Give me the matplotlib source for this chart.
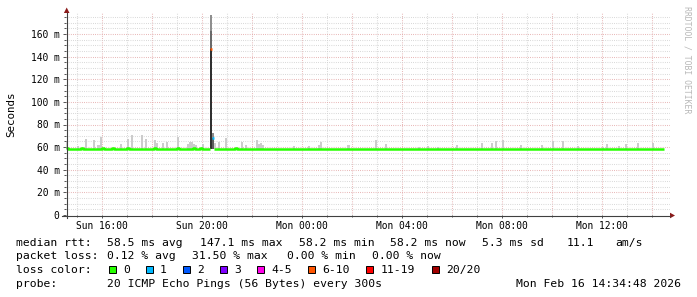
import numpy as np
import matplotlib
matplotlib.use('Agg')
import matplotlib.pyplot as plt
from matplotlib.lines import Line2D
from matplotlib.patches import Rectangle, Polygon
from matplotlib.transforms import Affine2D

W, H = 697, 297
MONO = 'DejaVu Sans Mono'

# time axis in hours since Sun 00:00, one value per 5 minute step
start_h = 14 + 34 / 60 + 48 / 3600
step_h = 5 / 60
n_steps = 287

# median rtt (ms)
median_base = 58.2
median_bump_idx = [0, 7, 17, 22, 29, 42, 53, 61, 64, 81]
median_bump_val = 59.2

# light smoke: max ping of the steps that had outliers (ms)
smoke_idx = [0, 5, 9, 13, 15, 16, 26, 29, 31, 36, 38, 42, 43, 46, 48, 53, 58, 59, 60,
             61, 62, 65, 71, 73, 76, 84, 86, 91, 92, 93, 94, 109, 116, 121, 122, 135,
             148, 153, 169, 173, 178, 187, 199, 204, 206, 209, 218, 228, 233, 238, 245,
             257, 259, 265, 268, 274, 281]
smoke_max = [65.6, 61.0, 67.0, 66.0, 62.0, 69.0, 62.7, 67.0, 70.3, 70.8, 67.0, 66.0, 64.0,
             64.0, 64.5, 68.7, 63.0, 64.5, 64.5, 63.0, 62.0, 63.0, 63.5, 64.7, 68.4, 64.7,
             62.0, 66.0, 63.0, 64.0, 62.0, 61.0, 61.0, 62.0, 64.7, 62.0, 66.5, 63.0, 60.0,
             61.0, 60.0, 62.0, 64.0, 63.5, 65.0, 66.0, 61.8, 62.0, 65.0, 65.0, 61.0, 60.0,
             63.0, 61.0, 62.5, 64.0, 63.5]

# the loss event just after Sun 20:00
loss_idx = [69, 70]
loss_median = [147.1, 68.4]
loss_pings = [7, 1]
loss_bands = [[58.2, 147.1, 163.0, 177.0], [58.2, 68.4, 72.8]]
band_shades = [['#303030', '#6a6a6a', '#8e8e8e'], ['#5c5c5c', '#8c8c8c']]

# legend
loss_labels = ['0', '1', '2', '3', '4-5', '6-10', '11-19', '20/20']
loss_upper = [0, 1, 2, 3, 5, 10, 19, 20]
loss_colors = ['#26ff00', '#00b8ff', '#0059ff', '#7e00ff', '#ff00e8', '#ff5500', '#ff0000', '#a10000']

stats_rtt = ['58.5 ms avg', '147.1 ms max', '58.2 ms min', '58.2 ms now', '5.3 ms sd', '11.1', 'am/s']
stats_loss = ['0.12 % avg', '31.50 % max', '0.00 % min', '0.00 % now']
probe_text = '20 ICMP Echo Pings (56 Bytes) every 300s'
stamp = 'Mon Feb 16 14:34:48 2026'

x_ticks = [16, 20, 24, 28, 32, 36]
x_labels = ['Sun 16:00', 'Sun 20:00', 'Mon 00:00', 'Mon 04:00', 'Mon 08:00', 'Mon 12:00']
y_ticks = [0, 20, 40, 60, 80, 100, 120, 140, 160]
y_labels = ['0'] + ['%d m' % v for v in y_ticks[1:]]

# build series
median = np.full(n_steps, median_base)
median[median_bump_idx] = median_bump_val
loss = np.zeros(n_steps, dtype=int)
loss[loss_idx] = loss_pings
median[loss_idx] = loss_median
smoke_top = median.copy()
smoke_top[smoke_idx] = smoke_max
edges = start_h + np.arange(n_steps + 1) * step_h

fig = plt.figure(figsize=(W / 100, H / 100), dpi=100)
fig.patch.set_facecolor('white')
PX = Affine2D().scale(1 / W, -1 / H).translate(0, 1) + fig.transFigure

L, R, B, T = 66.2, 670, 215, 13
ax = fig.add_axes([L / W, 1 - B / H, (R - L) / W, (B - T) / H])
ax.set_xlim(start_h, start_h + (R - L) / 25)
ax.set_ylim(0, (B - T) / (181 / 160))
for s in ax.spines.values():
    s.set_visible(False)

# grid
dot = (0, (0.72, 1.4))
for h in range(15, 39):
    ax.axvline(h, color='#e2a4a4' if h % 2 == 0 else '#cfcfcf', lw=0.75, ls=dot, zorder=0)
for v in range(5, 180, 5):
    ax.axhline(v, color='#e2a4a4' if v % 20 == 0 else '#cfcfcf', lw=0.75, ls=dot, zorder=0)

# smoke
base = np.full(n_steps, median_base)
show = (smoke_top > median) & (loss == 0)
ax.bar(edges[:-1][show], (smoke_top - base)[show], bottom=base[show], width=step_h,
       align='edge', color='#cccccc', linewidth=0, zorder=1)
for k, bands, shades in zip(loss_idx, loss_bands, band_shades):
    for lo, hi, c in zip(bands[:-1], bands[1:], shades):
        ax.bar(edges[k], hi - lo, bottom=lo, width=step_h, align='edge',
               color=c, linewidth=0, zorder=2)

# median line coloured by loss
green = np.where(loss == 0, median, np.nan)
ax.step(edges, np.append(green, green[-1]), where='post', color=loss_colors[0],
        lw=1.8, zorder=3, solid_capstyle='butt')
for k in loss_idx:
    c = loss_colors[next(i for i, u in enumerate(loss_upper) if loss[k] <= u)]
    ax.hlines(median[k], edges[k], edges[k + 1], color=c, lw=1.8, zorder=4)

# ticks
ax.set_xticks(x_ticks, x_labels)
ax.set_xticks(range(15, 39), minor=True)
ax.set_yticks(y_ticks, y_labels)
ax.set_yticks(range(5, 180, 5), minor=True)
ax.tick_params(which='major', length=2.2, width=0.7, color='#555555', pad=2.4,
               labelsize=6.9, labelfontfamily=MONO)
ax.tick_params(which='minor', length=1.4, width=0.7, color='#555555')
ax.tick_params(axis='y', which='major', pad=2.6)

# axes lines and arrows
axis_c = '#404040'
arrow_c = '#8b1a1a'
fig.add_artist(Line2D([62, R], [B + 0.5, B + 0.5], transform=PX, color=axis_c, lw=0.8))
fig.add_artist(Line2D([L + 0.5, L + 0.5], [B + 3, T], transform=PX, color=axis_c, lw=0.8))
fig.add_artist(Polygon([[L - 2.3, T], [L + 3.3, T], [L + 0.5, 7.5]], closed=True,
                       transform=PX, color=arrow_c, lw=0))
fig.add_artist(Polygon([[R, B - 2.3], [R, B + 3.3], [R + 5, B + 0.5]], closed=True,
                       transform=PX, color=arrow_c, lw=0))

# labels
fig.text(11 / W, 1 - 114 / H, 'Seconds', rotation=90, family=MONO, fontsize=7.8,
         ha='center', va='center')
fig.text(687 / W, 1 - 60 / H, 'RRDTOOL / TOBI OETIKER', rotation=270, family=MONO,
         fontsize=5.9, color='#b8b8b8', ha='center', va='center')

def put(x, y, s, **kw):
    fig.text(x / W, 1 - y / H, s, family=MONO, fontsize=8.2, va='baseline', **kw)

put(16, 245.7, 'median rtt:')
for x, s in zip([107.3, 199.5, 299.3, 390, 482, 566.7, 615], stats_rtt):
    put(x, 245.7, s)
put(16, 259.3, 'packet loss:')
for x, s in zip([107.3, 192, 286.7, 371.7], stats_loss):
    put(x, 259.3, s)
put(16, 273.3, 'loss color:')
box_x = [108.8, 146.2, 182.6, 219.5, 256.7, 307.8, 365.7, 431.6]
lab_x = [123.4, 160, 196.8, 234.2, 271.2, 322.5, 380.4, 446.3]
for bx, lx, c, s in zip(box_x, lab_x, loss_colors, loss_labels):
    fig.add_artist(Rectangle((bx, 265.7), 7, 7.6, transform=PX, facecolor=c,
                             edgecolor='black', lw=0.7))
    put(lx, 273.3, s)
put(16, 287.3, 'probe:')
put(107.3, 287.3, probe_text)
put(681, 287.3, stamp, ha='right')

fig.savefig('out.png', dpi=100, facecolor='white')
